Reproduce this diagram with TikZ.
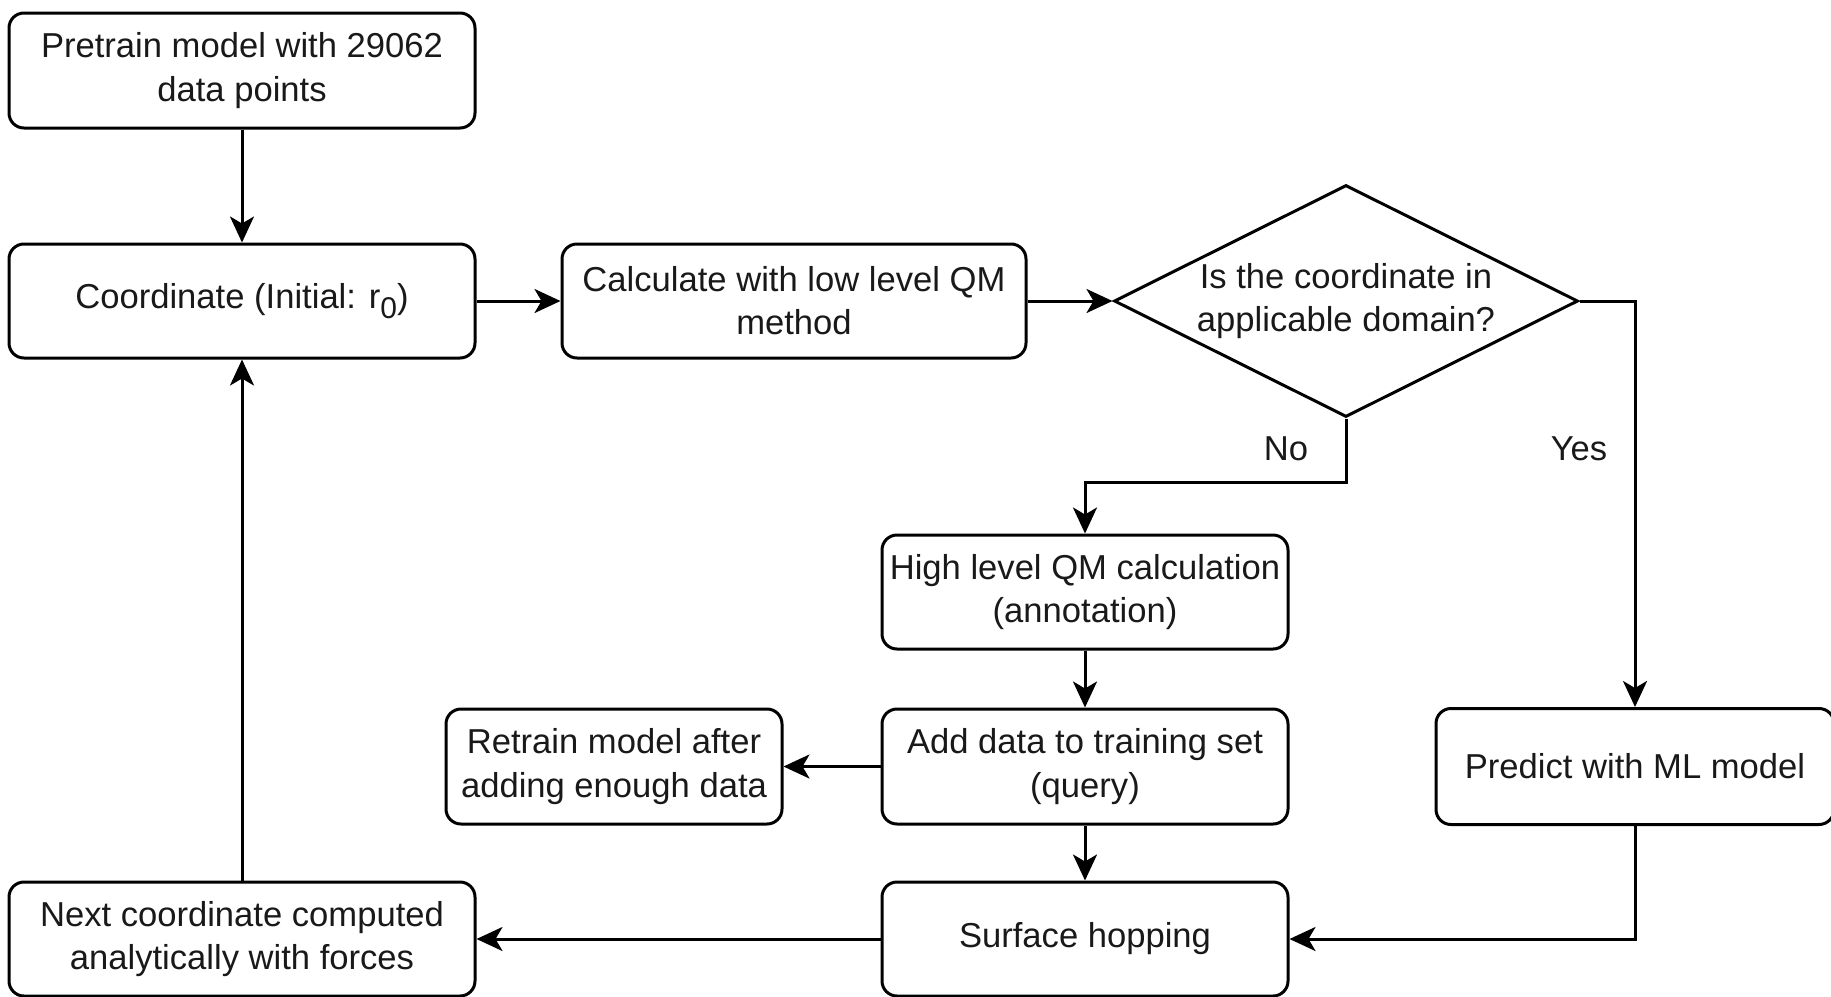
\documentclass[tikz,border=0pt]{standalone}
\usepackage{fontspec}
\setmainfont{Liberation Sans}
\usetikzlibrary{shapes.geometric,arrows.meta}
\begin{document}
\begin{tikzpicture}[x=0.5pt,y=-0.5pt,
  every node/.style={font=\fontsize{17.3}{21.6}\selectfont, text=black!90},
  box/.style={draw=black, line width=1.5pt, rounded corners=7.5pt, align=center, inner sep=0pt, minimum height=57pt},
  dia/.style={draw=black, line width=1.5pt, diamond, shape aspect=2, inner sep=0pt, minimum width=232pt, minimum height=116pt, align=center},
  conn/.style={draw=black, line width=1.5pt, -{Stealth[length=13pt,width=12pt,inset=3.5pt]}},
  lbl/.style={inner sep=0pt}
]
\useasboundingbox (0,0) rectangle (1831,996);

\node[box, minimum width=233pt, minimum height=57.5pt] (pre) at (242,70.5) {Pretrain model with 29062\\data points};
\node[box, minimum width=233pt] (coord) at (242,301) {Coordinate (Initial: r\raisebox{-0.28em}{\fontsize{15}{15}\selectfont 0})};
\node[box, minimum width=232pt] (calc) at (794,301) {Calculate with low level QM\\method};
\node[dia] (dom) at (1346,301) {Is the coordinate in\\applicable domain?};
\node[box, minimum width=203pt] (high) at (1085,592) {High level QM calculation\\(annotation)};
\node[box, minimum width=203pt, minimum height=57.5pt] (add) at (1085,766.5) {Add data to training set\\(query)};
\node[box, minimum width=168pt, minimum height=57.5pt] (retr) at (614,766.5) {Retrain model after\\adding enough data};
\node[box, minimum width=199pt, minimum height=58pt] (pred) at (1635,766.5) {Predict with ML model};
\node[box, minimum width=203pt] (surf) at (1085,939) {Surface hopping};
\node[box, minimum width=233pt] (next) at (242,939) {Next coordinate computed\\analytically with forces};

\node[lbl] (no) at (1286,449) {No};
\node[lbl] (yes) at (1579,449) {Yes};

\draw[conn] (pre) -- (coord);
\draw[conn] (coord) -- (calc);
\draw[conn] (calc) -- (dom);
\draw[conn] (dom.south) -- ++(0,64) -| (high.north);
\draw[conn] (dom.east) -| (pred.north);
\draw[conn] (high) -- (add);
\draw[conn] (add) -- (retr);
\draw[conn] (add) -- (surf);
\draw[conn] (pred.south) |- (surf.east);
\draw[conn] (surf) -- (next);
\draw[conn] (next) -- (coord);
\end{tikzpicture}
\end{document}
